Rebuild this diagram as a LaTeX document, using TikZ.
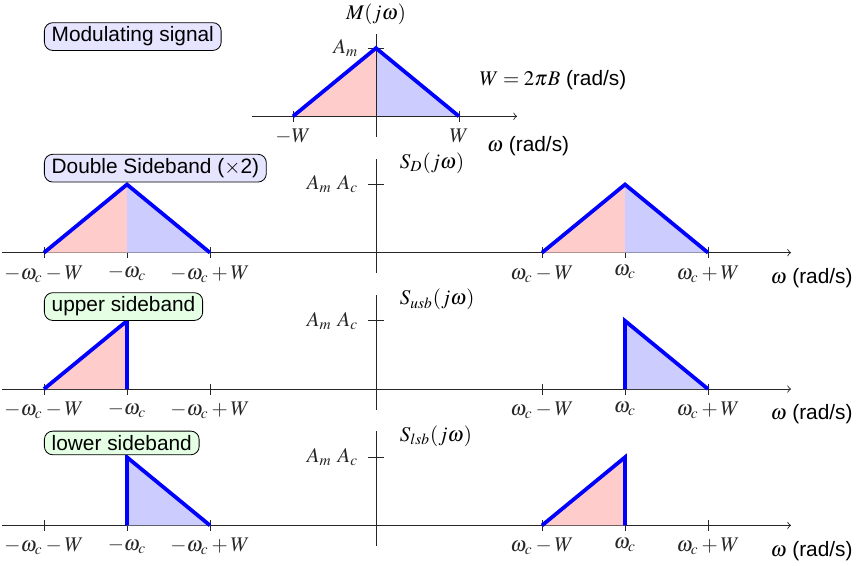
\documentclass[tikz,border=0pt]{standalone}
\usepackage{amsmath}
\usepackage{mathptmx}
\usepackage{fontspec}
\setmainfont{Liberation Sans}
\usetikzlibrary{positioning,calc}

\tikzset{
  sig/.style={blue, line width=1.8pt},
  lofill/.style={fill=red!20},
  upfill/.style={fill=blue!20},
  tag/.style={draw, rounded corners=4pt, inner xsep=3.5pt, inner ysep=2pt, anchor=south west},
  axis/.style={black!85, thin},
}

\begin{document}
\begin{tikzpicture}[x=1.4cm, y=1.15cm]
\useasboundingbox (-4.53,1.706) rectangle (5.843,-6.588);

% modulating signal
\fill[lofill] (-1,0) -- (0,1) -- (0,0) -- cycle;
\fill[upfill] (0,0) -- (0,1) -- (1,0) -- cycle;
\draw[axis,->] (-1.5,0) -- (1.7,0);
\draw[axis] (0,-0.3) -- (0,1.2);
\node (M) at (0,1.5) {$M(j\omega)$};
\draw[axis] (-0.1,1) node[left=1pt] (Am) {$A_m$} -- (0.1,1);
\foreach \x/\t in {-1/{$-W$}, 1/{$W$}}
  \draw[axis] (\x,0.08) -- (\x,-0.08) node[below] (m\x) {\t};
\draw[sig] (-1,0) -- (0,1) -- (1,0);
\node[anchor=west] (Wdef) at (1.16,0.53) {$W=2\pi B$ (rad/s)};
\node[anchor=west] (wm) at (1.25,-0.43) {$\omega$ (rad/s)};
\node[tag, fill=blue!10] (modsig) at (-4,0.96) {Modulating signal};

% axes of the three modulated spectra
\foreach \s/\n in {-2/D, -4/usb, -6/lsb} {
  \draw[axis,->] (-4.5,\s) -- (5,\s);
  \draw[axis] (0,\s-0.3) -- (0,\s+1.38);
  \draw[axis] (-0.1,\s+1) node[left=1pt] (A\n) {$A_m\ A_c$} -- (0.1,\s+1);
  \node[anchor=west] (S\n) at (0.2,\s+1.31) {$S_{\n}(j\omega)$};
  \node[anchor=east] (w\n) at (5.83,\s-0.37) {$\omega$ (rad/s)};
  \foreach \x/\t in {-4/{$-\omega_c-W$}, -3/{$-\omega_c$}, -2/{$-\omega_c+W$},
                     2/{$\omega_c-W$}, 3/{$\omega_c$}, 4/{$\omega_c+W$}}
    \draw[axis] (\x,\s+0.08) -- (\x,\s-0.08) node[below] (t\n\x) {\t};
}

% double sideband
\begin{scope}[shift={(0,-2)}]
\foreach \c in {-3,3} {
  \fill[lofill] (\c-1,0) -- (\c,1) -- (\c,0) -- cycle;
  \fill[upfill] (\c,0) -- (\c,1) -- (\c+1,0) -- cycle;
  \draw[sig] (\c-1,0) -- (\c,1) -- (\c+1,0);
}
\node[tag, fill=blue!10] (dsb) at (-4,1.03) {Double Sideband ($\times$2)};
\end{scope}

% upper sideband
\begin{scope}[shift={(0,-4)}]
\fill[lofill] (-4,0) -- (-3,1) -- (-3,0) -- cycle;
\draw[sig] (-4,0) -- (-3,1) -- (-3,0);
\fill[upfill] (3,0) -- (3,1) -- (4,0) -- cycle;
\draw[sig] (3,0) -- (3,1) -- (4,0);
\node[tag, fill=green!10] (usb) at (-4,1) {upper sideband};
\end{scope}

% lower sideband
\begin{scope}[shift={(0,-6)}]
\fill[upfill] (-3,0) -- (-3,1) -- (-2,0) -- cycle;
\draw[sig] (-3,0) -- (-3,1) -- (-2,0);
\fill[lofill] (2,0) -- (3,1) -- (3,0) -- cycle;
\draw[sig] (2,0) -- (3,1) -- (3,0);
\node[tag, fill=green!10] (lsb) at (-4,1.03) {lower sideband};
\end{scope}
\end{tikzpicture}
\end{document}
